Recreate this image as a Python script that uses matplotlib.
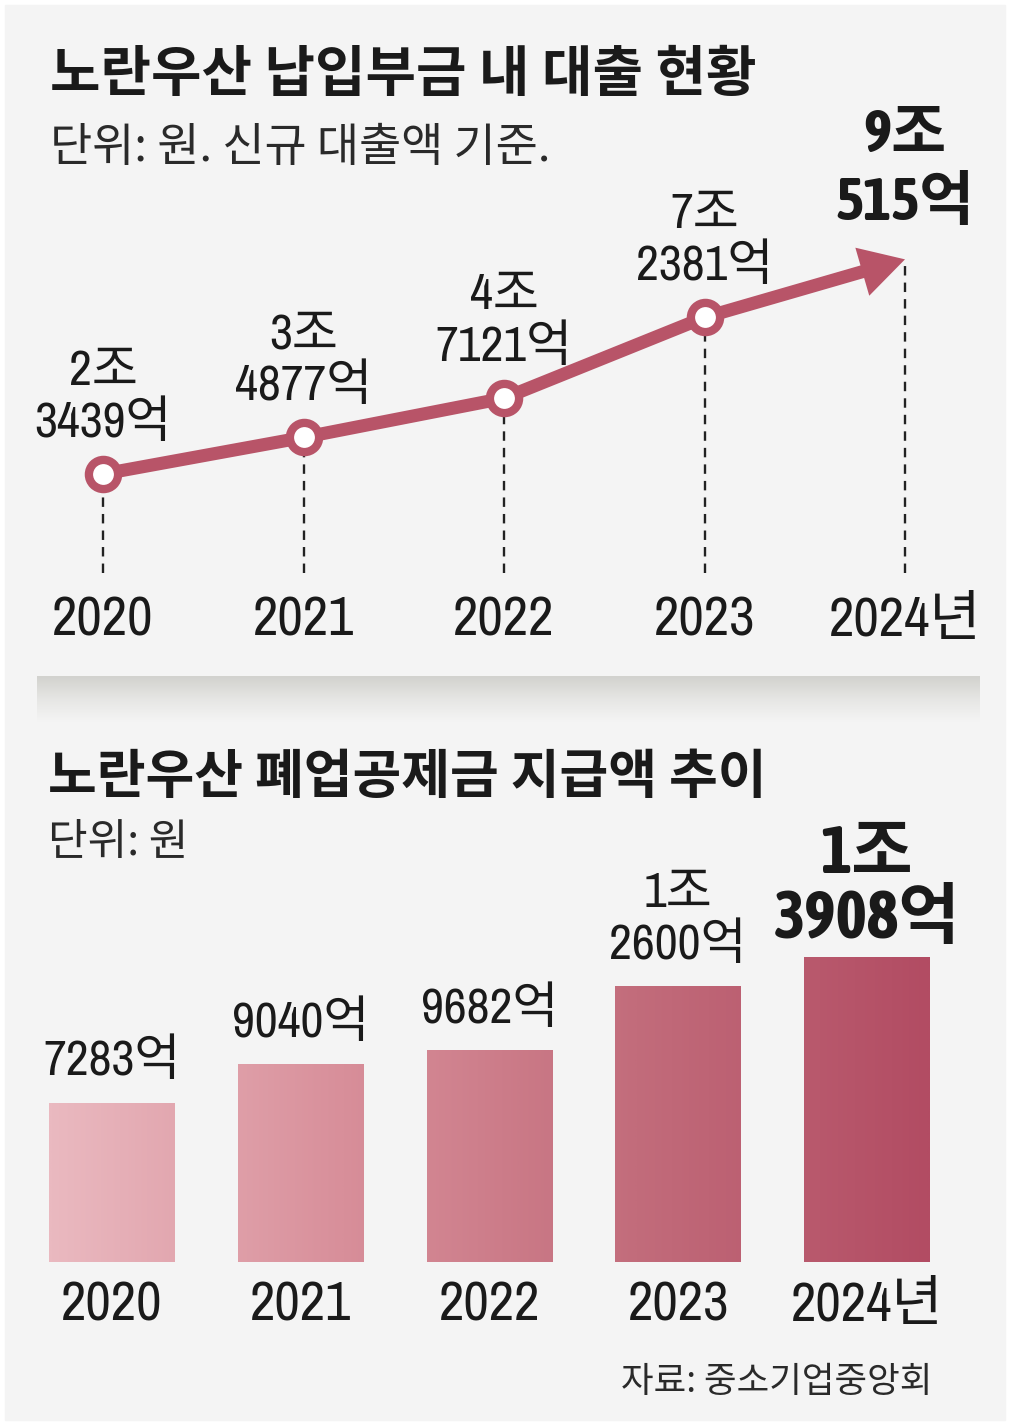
import matplotlib
matplotlib.use("Agg")
import matplotlib.pyplot as plt
import numpy as np
from matplotlib.colors import LinearSegmentedColormap, Normalize
from matplotlib.patches import Rectangle

# 데이터
years = [2020, 2021, 2022, 2023, 2024]
year_labels = ["2020", "2021", "2022", "2023", "2024년"]
loan = [2.3439, 3.4877, 4.7121, 7.2381, 9.0515]          # 조 원
loan_labels = ["2조\n3439억", "3조\n4877억", "4조\n7121억", "7조\n2381억", "9조\n515억"]
payout = [7283, 9040, 9682, 12600, 13908]                # 억 원
payout_labels = ["7283억", "9040억", "9682억", "1조\n2600억", "1조\n3908억"]

W, H = 1012, 1428
KR = ["Noto Sans CJK KR", "DejaVu Sans"]
NUM = ["Archivo Narrow", "Noto Sans CJK KR", "DejaVu Sans"]
NUMB = ["Asap Condensed", "Noto Sans CJK KR", "DejaVu Sans"]
ink = "#1a1a1a"
red = "#b85468"

def fx(px):
    return px / W

def fy(py):
    return 1 - py / H

fig = plt.figure(figsize=(W / 100, H / 100), dpi=100, facecolor="white")
fig.patches.append(Rectangle((fx(5), fy(1420)), fx(1000), 1415 / H,
                             transform=fig.transFigure, color="#f4f4f4", zorder=-10))

# 가운데 구분 띠
band = fig.add_axes([fx(37), fy(722), fx(943), 46 / H])
grad = np.linspace(0, 1, 64).reshape(-1, 1)
band_cmap = LinearSegmentedColormap.from_list("band", ["#d2d2ce", "#e6e6e4", "#f4f4f4"])
band.imshow(grad, aspect="auto", cmap=band_cmap, extent=[0, 1, 0, 1])
band.axis("off")

# 제목
fig.text(fx(50), fy(75), "노란우산 납입부금 내 대출 현황", family=KR, fontsize=39.5,
         fontweight="bold", color=ink, va="center")
fig.text(fx(50), fy(148), "단위: 원. 신규 대출액 기준.", family=KR, fontsize=33,
         color="#2a2a2a", va="center")
fig.text(fx(48), fy(778), "노란우산 폐업공제금 지급액 추이", family=KR, fontsize=38.2,
         fontweight="bold", color=ink, va="center")
fig.text(fx(48), fy(843), "단위: 원", family=KR, fontsize=31,
         color="#2a2a2a", va="center")
fig.text(fx(932), fy(1382), "자료: 중소기업중앙회", family=KR, fontsize=25.5,
         color="#2a2a2a", va="center", ha="right")

# ---- 위: 선 그래프 ----
ax1 = fig.add_axes([0, fy(590), 1, 490 / H])
ax1.set_xlim(2020 - 103 / 200.5, 2024 + 107 / 200.5)
ax1.set_ylim((549 - 590) / 32, (549 - 100) / 32)
ax1.patch.set_alpha(0)
for s in ax1.spines.values():
    s.set_visible(False)
ax1.set_yticks([])
ax1.set_xticks(years)
ax1.set_xticklabels(year_labels, family=NUM, fontsize=40, color=ink)
ax1.tick_params(axis="x", length=0, pad=4)

ax1.vlines(years, -0.75, loan, colors="#222222", linestyles=(0, (4, 3)), lw=1.7, zorder=1)
ax1.plot(years[:4], loan[:4], "-", lw=9.4, color=red, zorder=3, solid_capstyle="butt")
ax1.annotate("", xy=(years[4], loan[4]), xytext=(years[3], loan[3]),
             arrowprops=dict(arrowstyle="simple,head_length=3.2,head_width=3.6,tail_width=0.94",
                             fc=red, ec="none", lw=0, shrinkA=0, shrinkB=0,
                             mutation_scale=10), zorder=3)
ax1.plot(years[:4], loan[:4], "o", ms=21, mfc="white", mec=red, mew=6, zorder=5)

for i, (x, v, lab) in enumerate(zip(years, loan, loan_labels)):
    last = i == 4
    ax1.annotate(lab, (x, v), xytext=(0, 19.5 if last else 20.5), textcoords="offset points",
                 ha="center", va="bottom", family=NUMB if last else NUM,
                 linespacing=1.25 if last else 1.17,
                 fontsize=43 if last else 36, fontweight="bold" if last else "normal",
                 color=ink)

# ---- 아래: 막대 그래프 ----
ax2 = fig.add_axes([0, fy(1275), 1, 475 / H])
idx = np.arange(len(years))
ax2.set_xlim(-112 / 188.75, (W - 112) / 188.75)
ax2.set_ylim(-(1275 - 1262) / 0.0219, (1262 - 800) / 0.0219)
ax2.patch.set_alpha(0)
for s in ax2.spines.values():
    s.set_visible(False)
ax2.set_yticks([])
ax2.set_xticks(idx)
ax2.set_xticklabels(year_labels, family=NUM, fontsize=40, color=ink)
ax2.tick_params(axis="x", length=0, pad=4)

bars = ax2.bar(idx, payout, width=0.667, color="none", zorder=2)
bar_cmap = LinearSegmentedColormap.from_list("bars", ["#eab9c0", "#d88f9a", "#c26c7b", "#b24c63"])
xmin = idx[0] - 0.3335
xmax = idx[-1] + 0.3335
norm = Normalize(xmin, xmax)
for b in bars:
    x0 = b.get_x()
    x1 = x0 + b.get_width()
    g = np.linspace(x0, x1, 60).reshape(1, -1)
    im = ax2.imshow(g, cmap=bar_cmap, norm=norm, aspect="auto",
                    extent=[x0, x1, 0, b.get_height()], zorder=2)
    im.set_clip_path(b)

for i, (v, lab) in enumerate(zip(payout, payout_labels)):
    last = i == 4
    ax2.annotate(lab, (i, v), xytext=(0, 4 if last else 13), textcoords="offset points",
                 ha="center", va="bottom", family=NUMB if last else NUM,
                 linespacing=1.0 if last else 1.17,
                 fontsize=48 if last else 36, fontweight="bold" if last else "normal",
                 color=ink)

fig.savefig("out.png", dpi=100, facecolor="white")
